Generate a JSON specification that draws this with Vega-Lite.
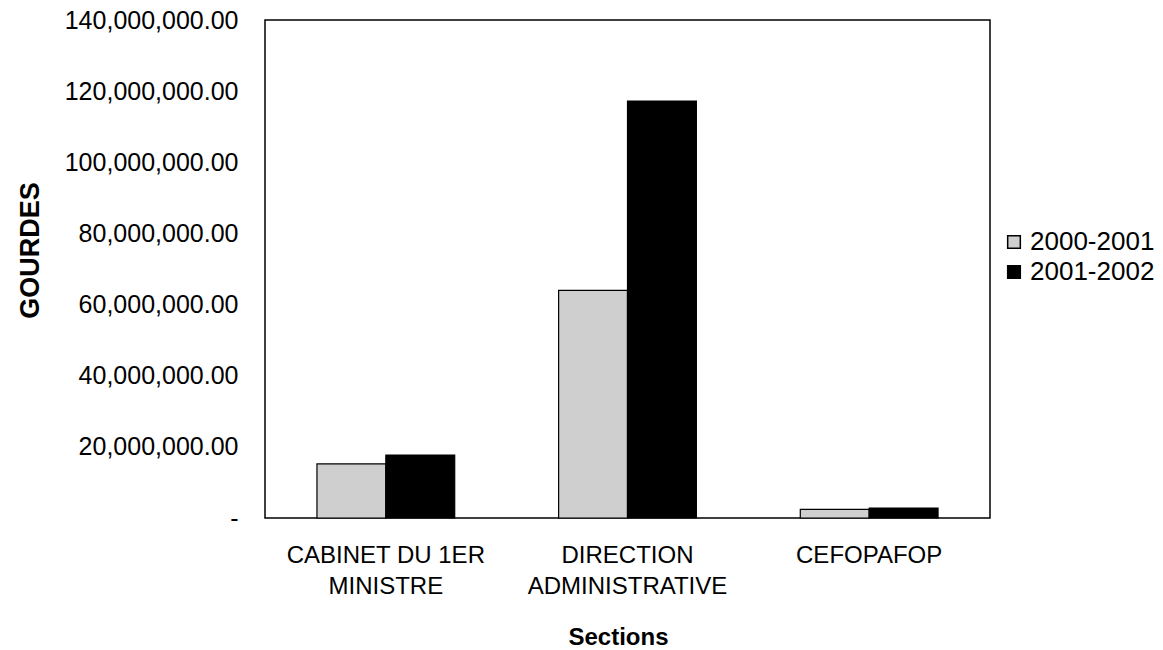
{
  "$schema": "https://vega.github.io/schema/vega-lite/v6.json",
  "width": 725,
  "height": 498,
  "autosize": {"type": "none"},
  "padding": {"left": 265, "top": 20, "right": 173, "bottom": 132},
  "background": "white",
  "config": {
    "font": "Liberation Sans",
    "view": {"stroke": "black", "strokeWidth": 1.5}
  },
  "data": {
    "values": [
      {"section": "CABINET DU 1ER MINISTRE", "year": "2000-2001", "value": 15200000},
      {"section": "CABINET DU 1ER MINISTRE", "year": "2001-2002", "value": 17700000},
      {"section": "DIRECTION ADMINISTRATIVE", "year": "2000-2001", "value": 64000000},
      {"section": "DIRECTION ADMINISTRATIVE", "year": "2001-2002", "value": 117200000},
      {"section": "CEFOPAFOP", "year": "2000-2001", "value": 2400000},
      {"section": "CEFOPAFOP", "year": "2001-2002", "value": 2800000}
    ]
  },
  "mark": {"type": "bar", "stroke": "black", "strokeWidth": 1.2},
  "encoding": {
    "x": {
      "field": "section",
      "type": "nominal",
      "sort": null,
      "scale": {"paddingInner": 0.43, "paddingOuter": 0.215},
      "axis": {
        "title": "Sections",
        "titleFontSize": 24,
        "titleFontWeight": "bold",
        "titlePadding": 27,
        "titleX": 353,
        "labelAngle": 0,
        "labelFontSize": 24,
        "labelColor": "black",
        "labelPadding": 25,
        "labelLineHeight": 31,
        "labelLimit": 0,
        "ticks": false,
        "domain": false,
        "labelExpr": "datum.value == 'CABINET DU 1ER MINISTRE' ? ['CABINET DU 1ER', 'MINISTRE'] : datum.value == 'DIRECTION ADMINISTRATIVE' ? ['DIRECTION', 'ADMINISTRATIVE'] : datum.value"
      }
    },
    "xOffset": {"field": "year", "type": "nominal", "scale": {"paddingInner": 0}},
    "y": {
      "field": "value",
      "type": "quantitative",
      "scale": {"domain": [0, 140000000], "nice": false},
      "axis": {
        "title": "GOURDES",
        "titleFontSize": 27,
        "titleFontWeight": "bold",
        "titleX": -221,
        "titleY": 230,
        "values": [0, 20000000, 40000000, 60000000, 80000000, 100000000, 120000000, 140000000],
        "labelExpr": "datum.value == 0 ? '-' : format(datum.value, ',.2f')",
        "labelFontSize": 25,
        "labelColor": "black",
        "labelPadding": 27,
        "labelLimit": 0,
        "ticks": false,
        "domain": false,
        "grid": false
      }
    },
    "fill": {
      "field": "year",
      "type": "nominal",
      "scale": {"domain": ["2000-2001", "2001-2002"], "range": ["#cfcfcf", "#000000"]},
      "legend": {
        "title": null,
        "orient": "none",
        "legendX": 736,
        "legendY": 209,
        "labelFontSize": 26,
        "labelColor": "black",
        "labelLimit": 0,
        "symbolType": "square",
        "symbolSize": 160,
        "symbolStrokeColor": "black",
        "symbolStrokeWidth": 1.5,
        "rowPadding": 4,
        "labelOffset": 3
      }
    }
  }
}
